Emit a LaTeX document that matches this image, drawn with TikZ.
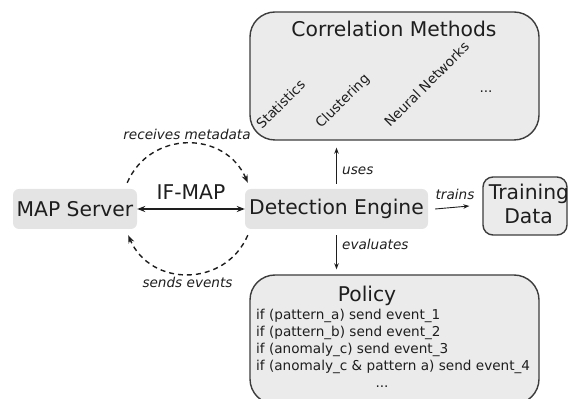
\documentclass[tikz,border=0pt]{standalone}
\usepackage{fontspec}
\setmainfont{DejaVu Sans}
\usetikzlibrary{arrows.meta,calc}
\definecolor{nodefill}{HTML}{E4E4E4}
\definecolor{boxfill}{HTML}{EBEBEB}
\definecolor{boxline}{HTML}{3C3C3C}
\definecolor{inktext}{HTML}{1E1E1E}
\newcommand{\bigsz}{\fontsize{20.3}{24}\selectfont}
\newcommand{\smallsz}{\fontsize{13.6}{16.5}\selectfont}
\tikzset{
  plainnode/.style={rectangle, rounded corners=6pt, fill=nodefill, inner sep=0pt, text=inktext, font=\bigsz},
  bigbox/.style={rectangle, rounded corners=25pt, fill=boxfill, draw=boxline, line width=1.4pt, inner sep=0pt},
  smallbox/.style={rectangle, rounded corners=10pt, fill=boxfill, draw=boxline, line width=1.4pt, inner sep=0pt},
  bigtext/.style={inner sep=0pt, text=inktext, font=\bigsz},
  smalltext/.style={inner sep=0pt, text=inktext, font=\smallsz},
  edgelabel/.style={inner sep=0pt, text=inktext, font=\smallsz\itshape},
  thinarrow/.style={draw=inktext, line width=0.9pt, -{Stealth[length=6pt,width=4.5pt]}},
  ifmaparrow/.style={draw=inktext, line width=1.4pt, {Stealth[length=8pt,width=6pt]}-{Stealth[length=8pt,width=6pt]}},
  dasharc/.style={draw=inktext, line width=1.4pt, dash pattern=on 5pt off 4pt, -{Stealth[length=8pt,width=6pt]}},
}
\begin{document}
\begin{tikzpicture}[x=1pt,y=1pt]
\useasboundingbox (0,0) rectangle (568,399);
% boxes
\node[bigbox, minimum width=289pt, minimum height=128pt] (corr) at (394.5,323) {};
\node[bigbox, minimum width=289pt, minimum height=129pt] (policy) at (394.5,59.5) {};
\node[smallbox, minimum width=84pt, minimum height=58pt] (tdbox) at (525,193) {};
\node[plainnode, minimum width=124pt, minimum height=40pt] (map) at (75,190) {MAP Server};
\node[plainnode, minimum width=183pt, minimum height=40pt] (det) at (336.5,190) {Detection Engine};
% correlation box texts
\node[bigtext, anchor=base] (corrtitle) at (394,362) {Correlation Methods};
\node[smalltext, anchor=base west, rotate=45] (stat) at (262,269) {Statistics};
\node[smalltext, anchor=base west, rotate=45] (clus) at (321,270) {Clustering};
\node[smalltext, anchor=base west, rotate=45] (neur) at (390,271) {Neural Networks};
\node[smalltext, anchor=base] (cdots) at (486,306) {...};
% training data text
\node[bigtext, anchor=base] (tdline1) at (529,199) {Training};
\node[bigtext, anchor=base] (tdline2) at (528.5,175) {Data};
% policy texts
\node[bigtext, anchor=base] (poltitle) at (367,97) {Policy};
\node[smalltext, anchor=base west] (pl1) at (256,79) {if (pattern\_a) send event\_1};
\node[smalltext, anchor=base west] (pl2) at (256,62) {if (pattern\_b) send event\_2};
\node[smalltext, anchor=base west] (pl3) at (256,45.5) {if (anomaly\_c) send event\_3};
\node[smalltext, anchor=base west] (pl4) at (256,28) {if (anomaly\_c \& pattern a) send event\_4};
\node[smalltext, anchor=base] (pdots) at (382,11) {...};
% IF-MAP connection
\draw[ifmaparrow] (map.east) -- (det.west);
\node[bigtext, anchor=base] (ifmap) at (191,199) {IF-MAP};
% dashed arcs
\draw[dasharc] ([shift={(-10pt,6pt)}]map.north east) to[out=66.7,in=113.3,looseness=1.22] ([shift={(3pt,6pt)}]det.north west);
\draw[dasharc] ([shift={(3pt,-6pt)}]det.south west) to[out=-113.3,in=-66.7,looseness=1.22] ([shift={(-9pt,-6pt)}]map.south east);
\node[edgelabel, anchor=base] (recv) at (187,259) {receives metadata};
\node[edgelabel, anchor=base] (sends) at (187.5,111) {sends events};
% uses / evaluates / trains
\draw[thinarrow] ($(det.north)+(0,5pt)$) -- ($(det.north |- corr.south)+(0,-7pt)$);
\node[edgelabel, anchor=base west] (uses) at (342,224) {uses};
\draw[thinarrow] ($(det.south)+(0,-6pt)$) -- ($(det.south |- policy.north)+(0,5pt)$);
\node[edgelabel, anchor=base west] (evals) at (342,149) {evaluates};
\draw[thinarrow] ($(det.east)+(7pt,0)$) -- ($(tdbox.west)+(-13pt,0)$);
\node[edgelabel, anchor=base] (trains) at (455,199) {trains};
\end{tikzpicture}
\end{document}
